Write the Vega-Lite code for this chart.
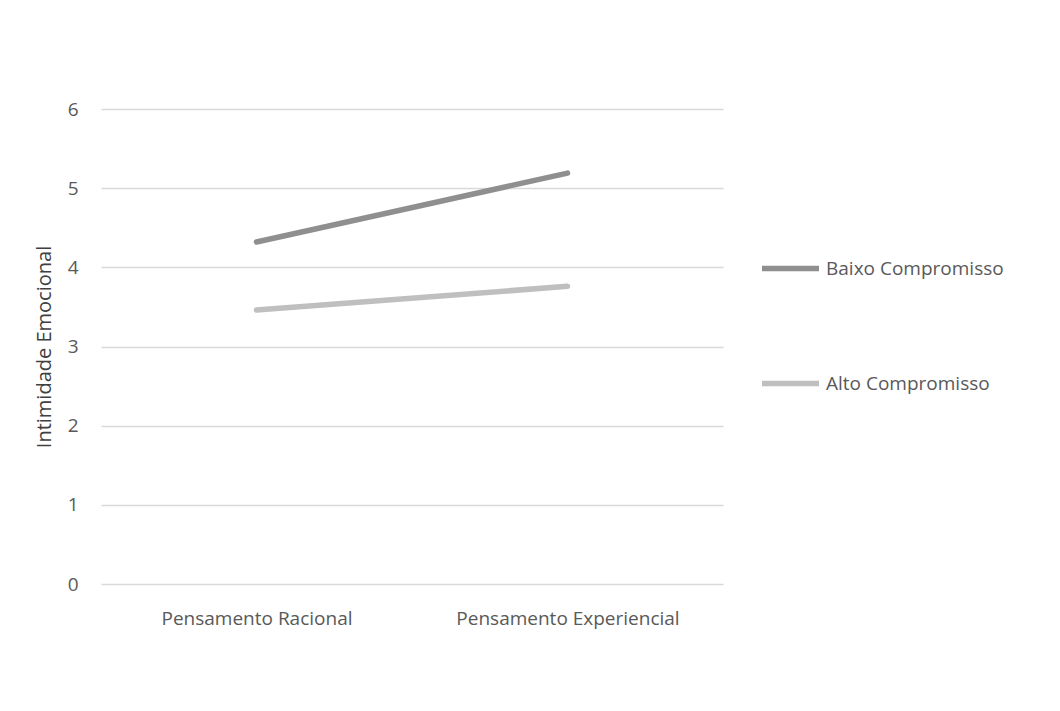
{
  "$schema": "https://vega.github.io/schema/vega-lite/v6.json",
  "width": 622,
  "height": 475,
  "autosize": {"type": "none"},
  "padding": {"left": 101, "top": 109, "right": 337, "bottom": 127},
  "background": "white",
  "config": {
    "view": {"stroke": null},
    "font": "Open Sans",
    "axis": {"labelFont": "Open Sans", "titleFont": "Open Sans", "labelColor": "#595959", "titleColor": "#404040"}
  },
  "data": {
    "values": [
      {"pensamento": "Pensamento Racional", "grupo": "Baixo Compromisso", "valor": 4.32},
      {"pensamento": "Pensamento Experiencial", "grupo": "Baixo Compromisso", "valor": 5.19},
      {"pensamento": "Pensamento Racional", "grupo": "Alto Compromisso", "valor": 3.46},
      {"pensamento": "Pensamento Experiencial", "grupo": "Alto Compromisso", "valor": 3.76}
    ]
  },
  "mark": {"type": "line", "strokeWidth": 5.5, "strokeCap": "round"},
  "encoding": {
    "x": {
      "field": "pensamento",
      "type": "nominal",
      "sort": ["Pensamento Racional", "Pensamento Experiencial"],
      "scale": {"type": "point", "padding": 0.5},
      "axis": {"title": null, "labelAngle": 0, "domain": false, "ticks": false, "grid": false, "labelFontSize": 19, "labelPadding": 25, "labelLimit": 0}
    },
    "y": {
      "field": "valor",
      "type": "quantitative",
      "scale": {"domain": [0, 6], "nice": false},
      "axis": {
        "title": "Intimidade Emocional",
        "values": [0, 1, 2, 3, 4, 5, 6],
        "domain": false,
        "ticks": false,
        "grid": true,
        "gridColor": "#d9d9d9",
        "gridWidth": 1.5,
        "labelFontSize": 19,
        "labelPadding": 23,
        "titleFontSize": 20,
        "titleFontWeight": "normal",
        "titlePadding": 13
      }
    },
    "color": {
      "field": "grupo",
      "type": "nominal",
      "scale": {"domain": ["Baixo Compromisso", "Alto Compromisso"], "range": ["#8f8f8f", "#bfbfbf"]},
      "legend": {
        "title": null,
        "orient": "none",
        "legendX": 658,
        "legendY": 128,
        "symbolType": "stroke",
        "symbolSize": 3249,
        "symbolStrokeWidth": 5.5,
        "labelFontSize": 19,
        "labelColor": "#595959",
        "labelFont": "Open Sans",
        "labelOffset": 4,
        "labelLimit": 0,
        "rowPadding": 72
      }
    }
  }
}
